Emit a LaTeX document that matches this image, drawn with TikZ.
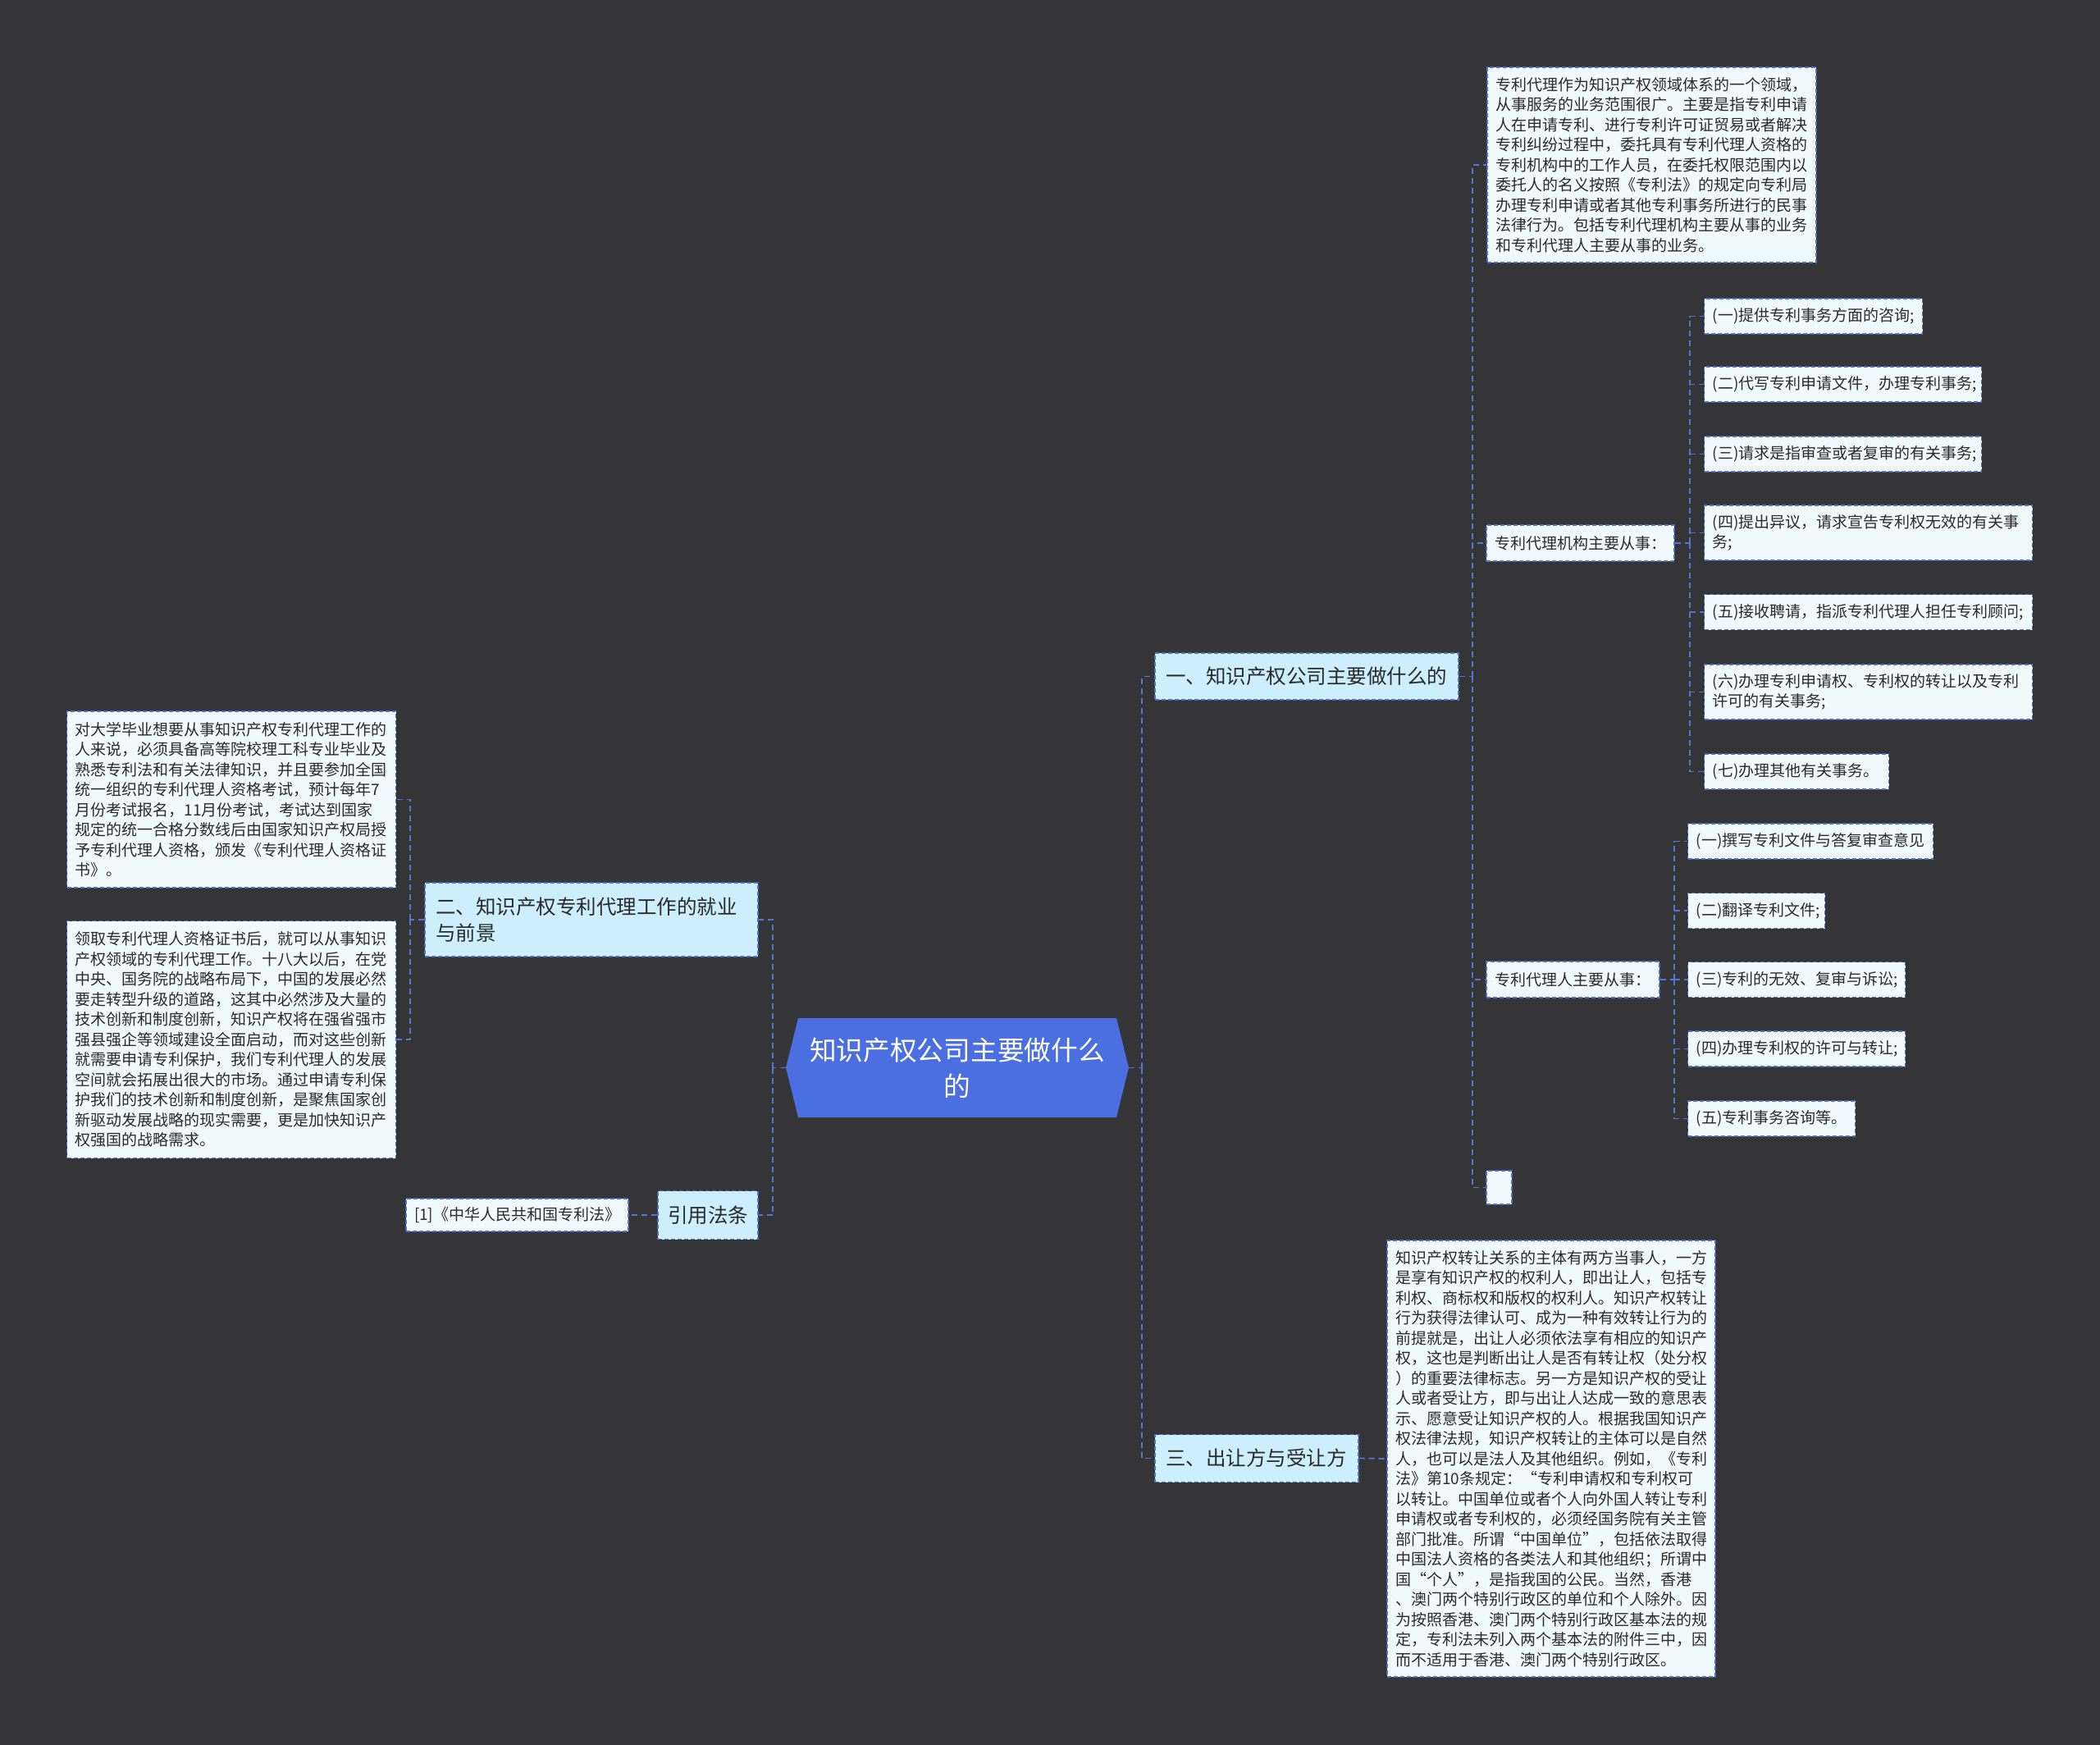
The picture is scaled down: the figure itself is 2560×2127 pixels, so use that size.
\documentclass[tikz,border=0pt]{standalone}
\usepackage{fontspec}
\newfontfamily\cjk{Noto Sans CJK SC}
\definecolor{bgc}{HTML}{353437}
\definecolor{connc}{HTML}{5673D6}
\definecolor{bordc}{HTML}{4F6DCB}
\definecolor{leaff}{HTML}{F0F9FD}
\definecolor{brf}{HTML}{CDEEFC}
\definecolor{cen}{HTML}{4B6EE0}
\definecolor{txtc}{HTML}{2A2A2A}
\tikzset{
  leaf/.style={draw=bordc, fill=leaff, line width=1.4pt, dash pattern=on 5pt off 3pt,
    inner xsep=10pt, inner ysep=0pt, text=txtc, align=left,
    font=\cjk\fontsize{19pt}{24.5pt}\selectfont},
  branch/.style={leaf, fill=brf, inner xsep=13pt, font=\cjk\fontsize{24.5pt}{32pt}\selectfont},
  conn/.style={draw=connc, line width=1.8pt, dash pattern=on 7pt off 5pt},
}
\begin{document}
\begin{tikzpicture}[x=1pt,y=-1pt]
\fill[bgc] (0,0) rectangle (2560,2127);
\useasboundingbox (0,0) rectangle (2560,2127);

% central topic
\fill[cen] (958,1301.5) -- (973,1241) -- (1361,1241) -- (1376,1301.5) -- (1361,1362) -- (973,1362) -- cycle;
\node[font=\cjk\fontsize{32.7pt}{44pt}\selectfont, text=white, align=center,
  minimum width=418pt, minimum height=121pt, inner sep=0pt] (c) at (1167,1301.5) {知识产权公司主要做什么\\的};

% main branches
\node[branch, text width=344pt, minimum height=57pt] (n1) at (1593,824.5) {一、知识产权公司主要做什么的};
\node[branch, text width=222pt, minimum height=58pt] (n3) at (1532,1777.5) {三、出让方与受让方};
\node[branch, text width=380pt, minimum height=90pt] (n2) at (721,1121) {二、知识产权专利代理工作的就业\\与前景};
\node[branch, inner xsep=12pt, text width=98pt, minimum height=59pt] (ref) at (863,1481) {引用法条};

% leaves of branch 1
\node[leaf, text width=381pt, minimum height=238pt] (t1) at (2013.5,201) {专利代理作为知识产权领域体系的一个领域，\\从事服务的业务范围很广。主要是指专利申请\\人在申请专利、进行专利许可证贸易或者解决\\专利纠纷过程中，委托具有专利代理人资格的\\专利机构中的工作人员，在委托权限范围内以\\委托人的名义按照《专利法》的规定向专利局\\办理专利申请或者其他专利事务所进行的民事\\法律行为。包括专利代理机构主要从事的业务\\和专利代理人主要从事的业务。};
\node[leaf, text width=209pt, minimum height=44pt] (jg) at (1926.5,662) {专利代理机构主要从事：};
\node[leaf, text width=191pt, minimum height=44pt] (dl) at (1917.5,1194) {专利代理人主要从事：};
\node[leaf, minimum width=31pt, minimum height=41pt] (e) at (1827.5,1447.5) {};

\node[leaf, anchor=west, text width=246pt, minimum height=43pt] (a1) at (2077,385.5) {(一)提供专利事务方面的咨询;};
\node[leaf, anchor=west, text width=318pt, minimum height=43pt] (a2) at (2077,468.5) {(二)代写专利申请文件，办理专利事务;};
\node[leaf, anchor=west, text width=318pt, minimum height=43pt] (a3) at (2077,553.5) {(三)请求是指审查或者复审的有关事务;};
\node[leaf, anchor=west, text width=380pt, minimum height=67pt] (a4) at (2077,649.5) {(四)提出异议，请求宣告专利权无效的有关事\\务;};
\node[leaf, anchor=west, text width=380pt, minimum height=43pt] (a5) at (2077,746) {(五)接收聘请，指派专利代理人担任专利顾问;};
\node[leaf, anchor=west, text width=380pt, minimum height=67pt] (a6) at (2077,843.5) {(六)办理专利申请权、专利权的转让以及专利\\许可的有关事务;};
\node[leaf, anchor=west, text width=205pt, minimum height=43pt] (a7) at (2077,940.5) {(七)办理其他有关事务。};

\node[leaf, anchor=west, text width=279pt, minimum height=43pt] (b1) at (2057,1025.5) {(一)撰写专利文件与答复审查意见};
\node[leaf, anchor=west, text width=147pt, minimum height=43pt] (b2) at (2057,1110) {(二)翻译专利文件;};
\node[leaf, anchor=west, text width=245pt, minimum height=43pt] (b3) at (2057,1194) {(三)专利的无效、复审与诉讼;};
\node[leaf, anchor=west, text width=245pt, minimum height=43pt] (b4) at (2057,1278.5) {(四)办理专利权的许可与转让;};
\node[leaf, anchor=west, text width=184pt, minimum height=43pt] (b5) at (2057,1363.5) {(五)专利事务咨询等。};

% leaf of branch 3
\node[leaf, text width=380pt, minimum height=532pt] (t3) at (1891,1778) {知识产权转让关系的主体有两方当事人，一方\\是享有知识产权的权利人，即出让人，包括专\\利权、商标权和版权的权利人。知识产权转让\\行为获得法律认可、成为一种有效转让行为的\\前提就是，出让人必须依法享有相应的知识产\\权，这也是判断出让人是否有转让权（处分权\\）的重要法律标志。另一方是知识产权的受让\\人或者受让方，即与出让人达成一致的意思表\\示、愿意受让知识产权的人。根据我国知识产\\权法律法规，知识产权转让的主体可以是自然\\人，也可以是法人及其他组织。例如，《专利\\法》第10条规定：“专利申请权和专利权可\\以转让。中国单位或者个人向外国人转让专利\\申请权或者专利权的，必须经国务院有关主管\\部门批准。所谓“中国单位”，包括依法取得\\中国法人资格的各类法人和其他组织；所谓中\\国“个人”，是指我国的公民。当然，香港\\、澳门两个特别行政区的单位和个人除外。因\\为按照香港、澳门两个特别行政区基本法的规\\定，专利法未列入两个基本法的附件三中，因\\而不适用于香港、澳门两个特别行政区。};

% leaves of branch 2 and references
\node[leaf, text width=381pt, minimum height=215pt] (L1) at (282.2,974.5) {对大学毕业想要从事知识产权专利代理工作的\\人来说，必须具备高等院校理工科专业毕业及\\熟悉专利法和有关法律知识，并且要参加全国\\统一组织的专利代理人资格考试，预计每年7\\月份考试报名，11月份考试，考试达到国家\\规定的统一合格分数线后由国家知识产权局授\\予专利代理人资格，颁发《专利代理人资格证\\书》。};
\node[leaf, text width=381pt, minimum height=289pt] (L2) at (282.2,1267) {领取专利代理人资格证书后，就可以从事知识\\产权领域的专利代理工作。十八大以后，在党\\中央、国务院的战略布局下，中国的发展必然\\要走转型升级的道路，这其中必然涉及大量的\\技术创新和制度创新，知识产权将在强省强市\\强县强企等领域建设全面启动，而对这些创新\\就需要申请专利保护，我们专利代理人的发展\\空间就会拓展出很大的市场。通过申请专利保\\护我们的技术创新和制度创新，是聚焦国家创\\新驱动发展战略的现实需要，更是加快知识产\\权强国的战略需求。};
\node[leaf, text width=251pt, minimum height=40pt] (rl) at (630.5,1481) {[1]《中华人民共和国专利法》};

% junction points
\coordinate (rT) at (1392,1301.5);
\coordinate (lT) at (942,1301.5);
\coordinate (l2) at (500,1121);
\coordinate (r1) at (1795,824.5);
\coordinate (rj) at (2060,662);
\coordinate (rd) at (2041,1194);

% connectors
\draw[conn] (c.east) -- (rT);
\draw[conn] (rT) |- (n1.west);
\draw[conn] (rT) |- (n3.west);
\draw[conn] (c.west) -- (lT);
\draw[conn] (lT) |- (n2.east);
\draw[conn] (lT) |- (ref.east);
\draw[conn] (n2.west) -- (l2);
\draw[conn] (l2) |- (L1.east);
\draw[conn] (l2) |- (L2.east);
\draw[conn] (ref.west) -- (rl.east);
\draw[conn] (n1.east) -- (r1);
\draw[conn] (r1) |- (t1.west);
\draw[conn] (r1) |- (jg.west);
\draw[conn] (r1) |- (dl.west);
\draw[conn] (r1) |- (e.west);
\draw[conn] (jg.east) -- (rj);
\foreach \k in {a1,a2,a3,a4,a5,a6,a7} {\draw[conn] (rj) |- (\k.west);}
\draw[conn] (dl.east) -- (rd);
\foreach \k in {b1,b2,b3,b4,b5} {\draw[conn] (rd) |- (\k.west);}
\draw[conn] (n3.east) -- (t3.west);
\end{tikzpicture}
\end{document}
